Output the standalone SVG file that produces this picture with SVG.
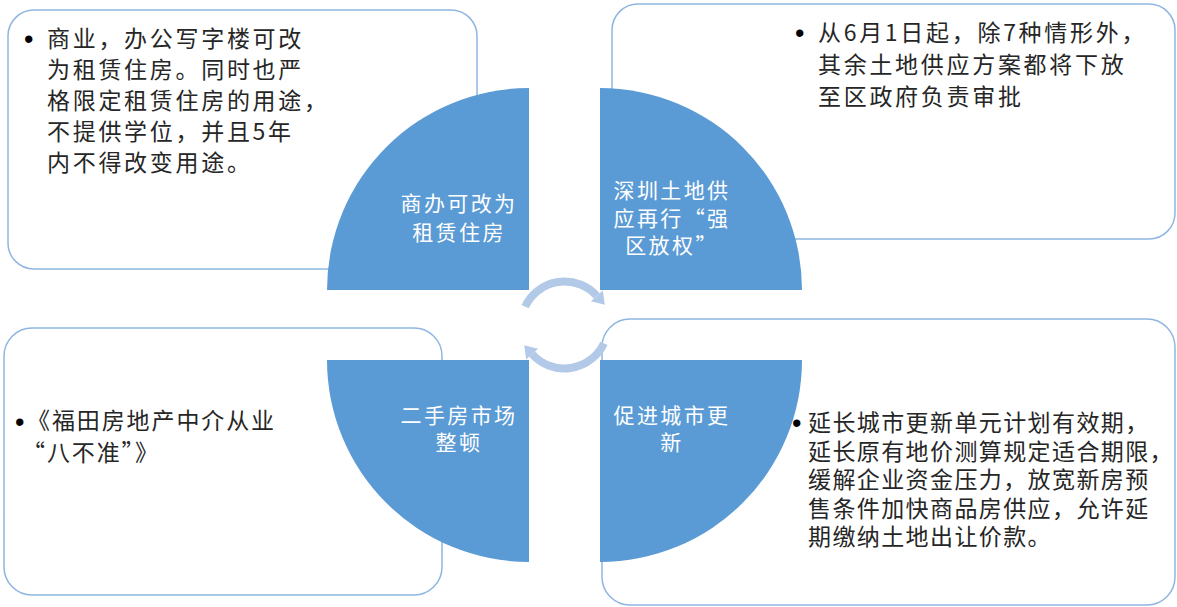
<svg xmlns="http://www.w3.org/2000/svg" width="1177" height="607" viewBox="0 0 1177 607">
<style>
.box{fill:#ffffff;stroke:#8FB6E1;stroke-width:1.5}
.q{fill:#5B9BD5}
.t{font-family:"Noto Sans CJK SC","Liberation Sans",sans-serif;font-size:23px;fill:#262626;letter-spacing:2.7px}
.tn{letter-spacing:1.9px}
.tb{letter-spacing:1.4px}
.c{font-family:"Noto Sans CJK SC","Liberation Sans",sans-serif;font-size:21px;fill:#ffffff;letter-spacing:2.4px;text-anchor:middle}
.b{font-family:"Liberation Sans",sans-serif;font-size:27px;fill:#000000}
.arc{fill:none;stroke:#B3C9E8;stroke-width:8}
.ah{fill:#B3C9E8}
</style>
<rect width="1177" height="607" fill="#ffffff"/>
<g id="box-tl">
<rect class="box" x="8" y="10" width="469" height="259" rx="26"/>
<text class="b" x="24" y="48">•</text>
<text class="t" x="47" y="47">商业，办公写字楼可改</text>
<text class="t" x="47" y="78">为租赁住房。同时也严</text>
<text class="t" x="47" y="109">格限定租赁住房的用途，</text>
<text class="t" x="47" y="140">不提供学位，并且5年</text>
<text class="t" x="47" y="171">内不得改变用途。</text>
</g>
<g id="box-tr">
<rect class="box" x="612" y="4" width="563" height="235" rx="26"/>
<text class="b" x="795" y="42">•</text>
<text class="t" x="818" y="41">从6月1日起，除7种情形外，</text>
<text class="t" x="818" y="73">其余土地供应方案都将下放</text>
<text class="t" x="818" y="105">至区政府负责审批</text>
</g>
<g id="box-bl">
<rect class="box" x="4" y="328" width="438" height="267" rx="28"/>
<text class="b" x="15" y="431">•</text>
<text class="t tn" x="27" y="429">《福田房地产中介从业</text>
<text class="t tn" x="22" y="461">“八不准”》</text>
</g>
<g id="box-br">
<rect class="box" x="602" y="319" width="573" height="286" rx="28"/>
<text class="b" x="792" y="432">•</text>
<text class="t tb" x="808" y="431">延长城市更新单元计划有效期，</text>
<text class="t tb" x="808" y="460">延长原有地价测算规定适合期限，</text>
<text class="t tb" x="808" y="488">缓解企业资金压力，放宽新房预</text>
<text class="t tb" x="808" y="517">售条件加快商品房供应，允许延</text>
<text class="t tb" x="808" y="545">期缴纳土地出让价款。</text>
</g>
<g id="quarter-tl">
<path class="q" d="M529,290 L327,290 A202,202 0 0 1 529,88 Z"/>
<text class="c" x="459" y="211">商办可改为</text>
<text class="c" x="459" y="240">租赁住房</text>
</g>
<g id="quarter-tr">
<path class="q" d="M600,290 L600,88 A202,202 0 0 1 802,290 Z"/>
<text class="c" x="672" y="198">深圳土地供</text>
<text class="c" x="672" y="226">应再行“强</text>
<text class="c" x="672" y="253">区放权”</text>
</g>
<g id="quarter-bl">
<path class="q" d="M529,360 L529,562 A202,202 0 0 1 327,360 Z"/>
<text class="c" x="459" y="423">二手房市场</text>
<text class="c" x="459" y="450">整顿</text>
</g>
<g id="quarter-br">
<path class="q" d="M600,360 L802,360 A202,202 0 0 1 600,562 Z"/>
<text class="c" x="672" y="423">促进城市更</text>
<text class="c" x="672" y="450">新</text>
</g>
<g id="connectors">
<g id="arrow-top">
<path class="arc" d="M525.1,306.6 A43.5,43.5 0 0 1 596.8,295.9"/>
<polygon class="ah" points="602.8,290.6 590.9,301.3 604.8,304.8"/>
</g>
<g id="arrow-bottom" transform="rotate(180 564.5 325)">
<path class="arc" d="M525.1,306.6 A43.5,43.5 0 0 1 596.8,295.9"/>
<polygon class="ah" points="602.8,290.6 590.9,301.3 604.8,304.8"/>
</g>
</g>
</svg>
